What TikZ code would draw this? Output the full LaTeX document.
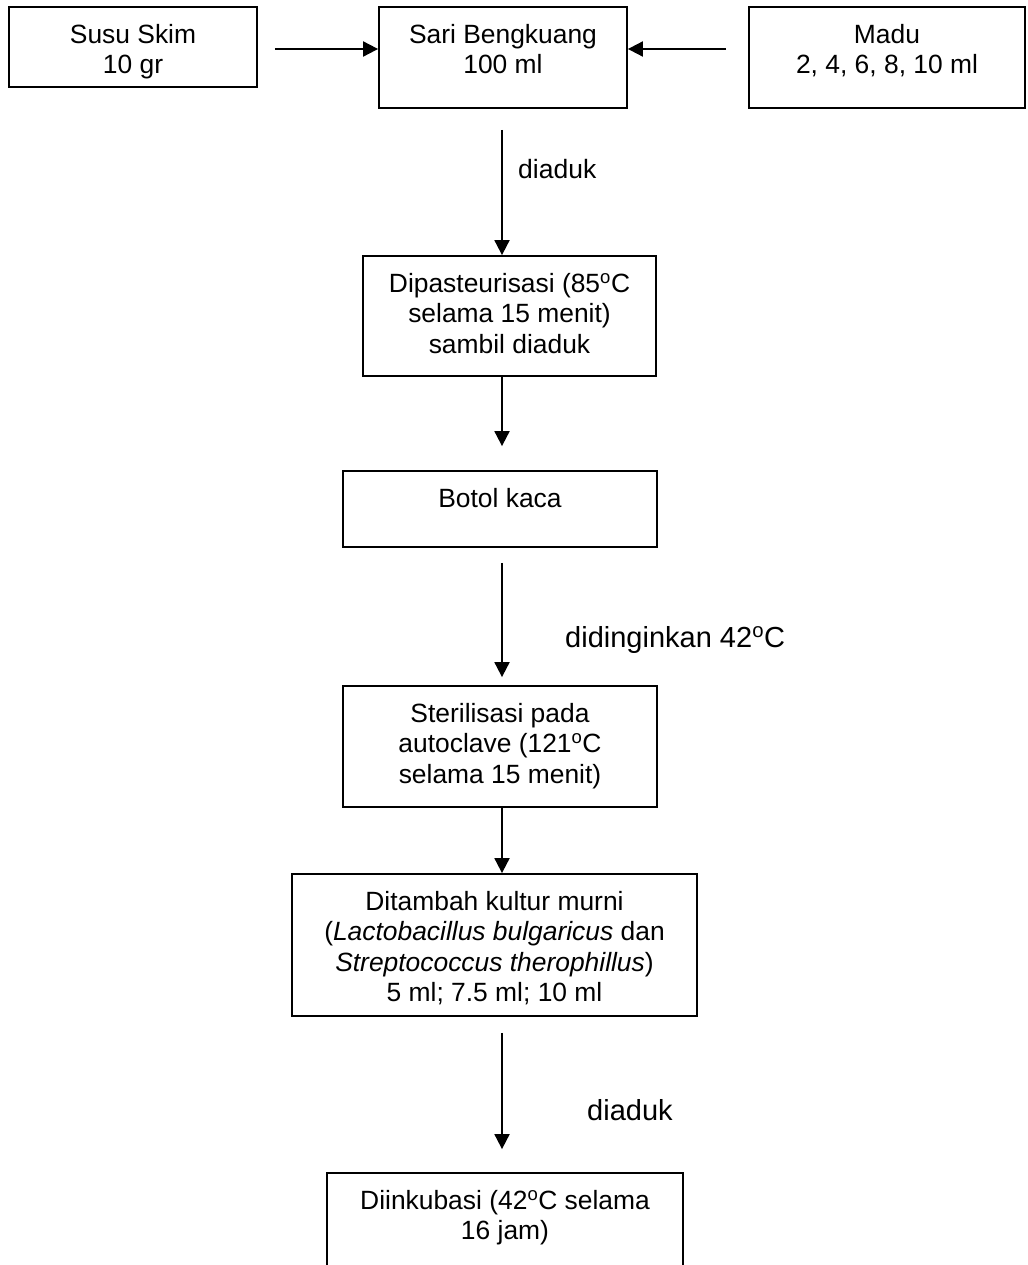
\documentclass[tikz,border=0pt]{standalone}
\usepackage{fontspec}
\setmainfont{Liberation Sans}
\usetikzlibrary{arrows.meta}
\tikzset{
  proc/.style={draw, line width=1.8pt, inner sep=0pt,
               font=\fontsize{26.4}{30.3}\selectfont},
  flow/.style={line width=1.9pt, -{Triangle[length=15pt,width=15pt]}},
  note/.style={inner sep=0pt, anchor=base west}
}
% width, height, lines (text hangs from the top of the box)
\newcommand{\boxtext}[3]{\parbox[c][#2pt][t]{#1pt}{\centering\rule{0pt}{36.5pt}#3}}
\newcommand{\degc}{\textsuperscript{o}C}
\begin{document}
\begin{tikzpicture}[x=1pt, y=-1pt]
      \useasboundingbox (0, 0) rectangle (1027, 1265);
      \clip (0, 0) rectangle (1027, 1265);
      \draw (133, 47) node (susu) [proc] {\boxtext{248}{80}{Susu Skim\\10 gr}}
            (503, 57.5) node (sari) [proc] {\boxtext{248}{101}{Sari Bengkuang\\100 ml}}
            (887, 57.5) node (madu) [proc] {\boxtext{276}{101}{Madu\\2, 4, 6, 8, 10 ml}}
            (509.5, 316) node (pas) [proc] {\boxtext{293}{120}{Dipasteurisasi (85\degc\\selama 15 menit)\\sambil diaduk}}
            (500, 509) node (botol) [proc] {\boxtext{314}{76}{Botol kaca}}
            (500, 746.5) node (steril) [proc] {\boxtext{314}{121}{Sterilisasi pada\\autoclave (121\degc\\selama 15 menit)}}
            (494.5, 945) node (tambah) [proc] {\boxtext{405}{142}{Ditambah kultur murni\\(\textit{Lactobacillus bulgaricus} dan\\\textit{Streptococcus therophillus})\\5 ml; 7.5 ml; 10 ml}}
            (505, 1233) node (inkubasi) [proc] {\boxtext{356}{120}{Diinkubasi (42\degc\ selama\\16 jam)}};
      \draw (518, 179) node (aduk1) [note, font=\fontsize{26.5}{30}\selectfont] {diaduk}
            (565, 647) node (dingin) [note, font=\fontsize{29}{34}\selectfont] {didinginkan 42\degc}
            (587, 1120) node (aduk2) [note, font=\fontsize{29}{34}\selectfont] {diaduk};
      \coordinate (mix) at (0, 49);
      \coordinate (axis) at (502, 0);
      \path (susu.east |- mix) edge [flow, shorten <=17pt] (sari.west |- mix)
            (madu.west |- mix) edge [flow, shorten <=22pt] (sari.east |- mix)
            (sari.south -| axis) edge [flow, shorten <=21pt] (pas.north -| axis)
            (pas.south -| axis) edge [flow, shorten >=24pt] (botol.north -| axis)
            (botol.south -| axis) edge [flow, shorten <=15pt, shorten >=8pt] (steril.north -| axis)
            (steril.south -| axis) edge [flow] (tambah.north -| axis)
            (tambah.south -| axis) edge [flow, shorten <=16pt, shorten >=23pt] (inkubasi.north -| axis);
      \end{tikzpicture}
\end{document}
